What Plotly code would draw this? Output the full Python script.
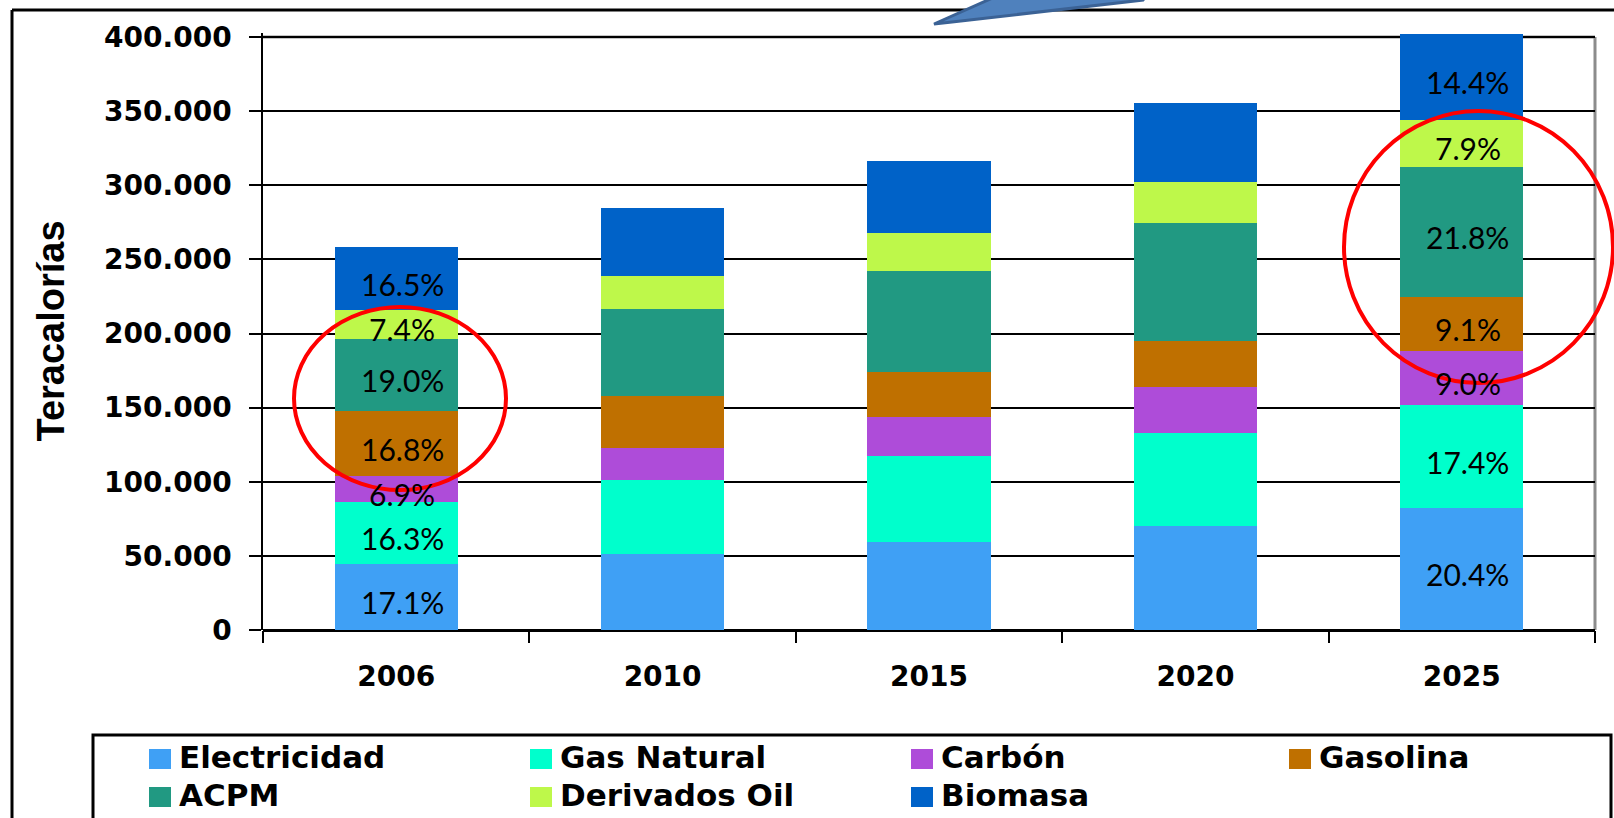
import plotly.graph_objects as go

# ---------------- data ----------------
years = ["2006", "2010", "2015", "2020", "2025"]
electricidad = [44200, 51300, 59400, 70100, 82000]
gas_natural = [42100, 49900, 58200, 62500, 69900]
carbon = [17800, 21800, 26100, 31000, 36200]
gasolina = [43400, 34900, 30600, 31600, 36600]
acpm = [49100, 58700, 67900, 79500, 87600]
derivados_oil = [19100, 22300, 25600, 27700, 31800]
biomasa = [42700, 45700, 48600, 53100, 57900]
series_names = ["Electricidad", "Gas Natural", "Carbón", "Gasolina", "ACPM", "Derivados Oil", "Biomasa"]
labeled_years = ["2006", "2025"]
y_title = "Teracalorías"

series_values = [electricidad, gas_natural, carbon, gasolina, acpm, derivados_oil, biomasa]
colors = ["#3FA0F5", "#00FFCC", "#AE4CD9", "#BF7000", "#219982", "#BEF84A", "#0062C8"]

# ---------------- geometry helpers (pixels -> paper) ----------------
W_FIG, H_FIG = 1614, 818
L, R, T, B = 263, 1595, 33, 630
PW, PH = R - L, B - T


def px(x):
    return (x - L) / PW


def py(y):
    return (B - y) / PH


fig = go.Figure()
for name, vals, col in zip(series_names, series_values, colors):
    fig.add_trace(go.Bar(x=years, y=vals, name=name, marker=dict(color=col, line=dict(width=0)),
                         showlegend=False))

# percentage labels
annotations = []
for yr in labeled_years:
    i = years.index(yr)
    total = sum(v[i] for v in series_values)
    cum = 0
    for vals in series_values:
        v = vals[i]
        annotations.append(dict(x=i, y=cum + v / 2, xref="x", yref="y", text=f"{100 * v / total:.1f}%",
                                showarrow=False, xshift=6, yshift=-5,
                                font=dict(family="Lato", size=30, color="black")))
        cum += v

# y-axis title
annotations.append(dict(x=px(50), y=0.5, xref="paper", yref="paper", text=y_title, textangle=-90,
                        showarrow=False, xanchor="center", yanchor="middle",
                        font=dict(family="Liberation Sans", size=38, color="black", weight="bold")))

shapes = []
# plot-area gray border (top and right)
shapes.append(dict(type="line", xref="paper", yref="y", x0=0, x1=1, y0=400000, y1=400000,
                   line=dict(color="#8C8C8C", width=3), layer="between"))
shapes.append(dict(type="line", xref="paper", yref="y", x0=1, x1=1, y0=0, y1=400000,
                   line=dict(color="#8C8C8C", width=3), layer="between"))

# outer chart frame
shapes.append(dict(type="line", xref="paper", yref="paper", x0=px(12), x1=px(1620), y0=py(10), y1=py(10),
                   line=dict(color="black", width=3)))
shapes.append(dict(type="line", xref="paper", yref="paper", x0=px(12), x1=px(12), y0=py(10), y1=py(830),
                   line=dict(color="black", width=3)))

# decorative callout arrow at top
pts = [(934, 24), (997, -4), (1146, -4), (1143, 0), (952, 22)]
path = "M " + " L ".join(f"{px(x)},{py(y)}" for x, y in pts) + " Z"
shapes.append(dict(type="path", xref="paper", yref="paper", path=path,
                   fillcolor="#4F81BD", line=dict(color="#3B6295", width=3)))

# red ellipses
shapes.append(dict(type="circle", xref="paper", yref="paper", x0=px(294), x1=px(506), y0=py(490), y1=py(307),
                   line=dict(color="#FF0000", width=4)))
shapes.append(dict(type="circle", xref="paper", yref="paper", x0=px(1344), x1=px(1613), y0=py(383), y1=py(111),
                   line=dict(color="#FF0000", width=4)))

# legend box
shapes.append(dict(type="rect", xref="paper", yref="paper", x0=px(93), x1=px(1611), y0=py(735), y1=py(840),
                   line=dict(color="black", width=3), fillcolor="rgba(0,0,0,0)"))
col_x = [149, 530, 911, 1289]
row_y = [759, 797]
for k, (name, col) in enumerate(zip(series_names, colors)):
    r, c = divmod(k, 4)
    sx, sy = col_x[c], row_y[r]
    shapes.append(dict(type="rect", xref="paper", yref="paper", x0=px(sx), x1=px(sx + 22),
                       y0=py(sy + 10), y1=py(sy - 10), line=dict(width=0), fillcolor=col))
    annotations.append(dict(x=px(sx + 28), y=py(sy), xref="paper", yref="paper", text=name, showarrow=False,
                            xanchor="left", yanchor="middle", yshift=2,
                            font=dict(family="DejaVu Sans", size=31, color="black", weight="bold")))

fig.update_layout(
    width=W_FIG, height=H_FIG,
    margin=dict(l=L, r=W_FIG - R, t=T, b=H_FIG - B, pad=0, autoexpand=False),
    barmode="stack", bargap=0.538,
    plot_bgcolor="white", paper_bgcolor="white",
    separators=",.",
    showlegend=False,
    annotations=annotations, shapes=shapes,
    xaxis=dict(type="category", range=[-0.5, 4.5], tickson="boundaries", ticks="outside", ticklen=12,
               tickwidth=2, tickangle=0, automargin=False,
               tickcolor="black", showgrid=False, showline=False, ticklabelstandoff=27,
               tickfont=dict(family="DejaVu Sans", size=28, color="black", weight="bold")),
    yaxis=dict(range=[0, 402700], dtick=50000, tickformat=",d", ticks="outside", ticklen=12, tickwidth=2,
               automargin=False,
               tickcolor="black", showgrid=True, gridcolor="black", gridwidth=2,
               zeroline=True, zerolinecolor="black", zerolinewidth=3,
               showline=True, linecolor="black", linewidth=1.5, ticklabelstandoff=12,
               tickfont=dict(family="DejaVu Sans", size=28, color="black", weight="bold")),
)

fig.write_html("out.html", config={"displayModeBar": False},
               post_script="document.body.style.margin='0';document.body.style.overflow='hidden';")
